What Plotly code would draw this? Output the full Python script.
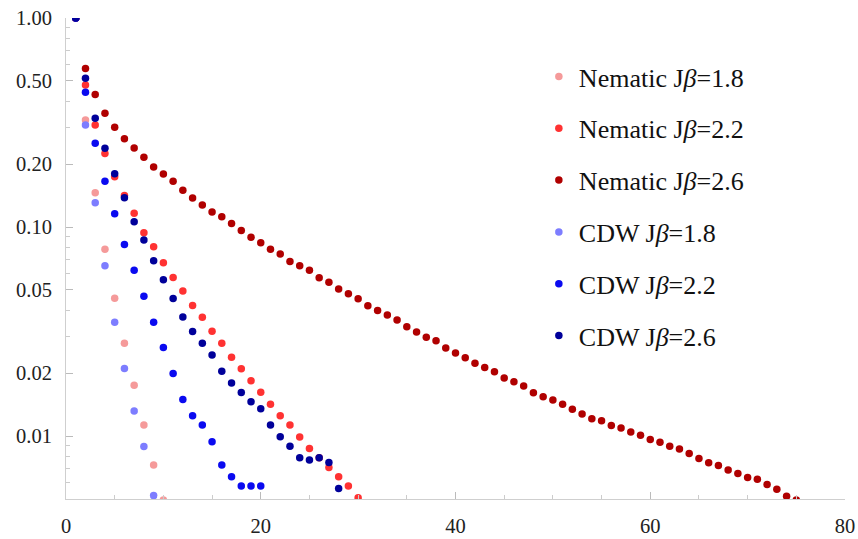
import plotly.graph_objects as go

# ---- data ----
nem18_x = list(range(1, 11))
nem18_y = [1.0, 0.325, 0.146, 0.0782, 0.0456, 0.0278, 0.0175, 0.0113, 0.00727, 0.00494]

nem22_x = list(range(1, 31))
nem22_y = [1.0, 0.478, 0.308, 0.225, 0.174, 0.1415, 0.1163, 0.0939, 0.0804, 0.0674,
           0.0574, 0.0494, 0.0421, 0.0370, 0.0317, 0.0278, 0.0238, 0.0210, 0.0184, 0.0162,
           0.0142, 0.0125, 0.0113, 0.00991, 0.00873, 0.00787, 0.00708, 0.00639, 0.00577, 0.00507]

nem26_x = list(range(1, 76))
nem26_y = [1.0, 0.574, 0.431, 0.350, 0.300, 0.2646, 0.2388, 0.2156, 0.1937, 0.1793,
           0.1655, 0.1498, 0.1377, 0.1274, 0.118, 0.112, 0.1039, 0.0962, 0.0893, 0.0841,
           0.0782, 0.0743, 0.0685, 0.0653, 0.0621, 0.0572, 0.0544, 0.0505, 0.048, 0.0454,
           0.042, 0.0399, 0.0379, 0.0359, 0.0333, 0.0315, 0.0297, 0.0286, 0.0264, 0.025,
           0.0237, 0.0223, 0.0213, 0.0203, 0.01895, 0.0182, 0.01735, 0.0161, 0.01542, 0.01486,
           0.01418, 0.01342, 0.01274, 0.0121, 0.01183, 0.01125, 0.01092, 0.01045, 0.0101, 0.00964,
           0.00935, 0.00895, 0.00867, 0.00826, 0.00782, 0.00745, 0.00724, 0.00688, 0.00663, 0.00634,
           0.00621, 0.00587, 0.00556, 0.00516, 0.00494]

cdw18_x = list(range(1, 10))
cdw18_y = [1.0, 0.3076, 0.1307, 0.0653, 0.035, 0.02104, 0.01318, 0.00891, 0.00519]

cdw22_x = list(range(1, 21))
cdw22_y = [1.0, 0.441, 0.2515, 0.1655, 0.1158, 0.0826, 0.0621, 0.0467, 0.035, 0.0265,
           0.01995, 0.01498, 0.01251, 0.01129, 0.00939, 0.00727, 0.00639, 0.00577, 0.00577, 0.00577]

cdw26_x = list(range(1, 29))
cdw26_y = [1.0, 0.5146, 0.3312, 0.2379, 0.1797, 0.1381, 0.106, 0.0867, 0.0689, 0.056,
           0.0455, 0.0371, 0.0316, 0.0278, 0.0244, 0.0204, 0.01793, 0.01618, 0.01459, 0.01351,
           0.01129, 0.00992, 0.00893, 0.00787, 0.00768, 0.00787, 0.00748, 0.00562]

series_names = ["Nematic J<i>β</i>=1.8", "Nematic J<i>β</i>=2.2", "Nematic J<i>β</i>=2.6",
                "CDW J<i>β</i>=1.8", "CDW J<i>β</i>=2.2", "CDW J<i>β</i>=2.6"]
series_colors = ["#F59A9A", "#FF3232", "#B00000", "#7D7DFF", "#0A0AF0", "#00009A"]

y_tickvals = [0.01, 0.02, 0.05, 0.1, 0.2, 0.5, 1.0]
y_ticktext = ["0.01", "0.02", "0.05", "0.10", "0.20", "0.50", "1.00"]
y_minor = [0.006, 0.007, 0.008, 0.009, 0.03, 0.04, 0.06, 0.07, 0.08, 0.09,
           0.3, 0.4, 0.6, 0.7, 0.8, 0.9]
x_tickvals = [0, 20, 40, 60, 80]
x_minor = [5, 10, 15, 25, 30, 35, 45, 50, 55, 65, 70, 75]

data = [(nem18_x, nem18_y), (nem22_x, nem22_y), (nem26_x, nem26_y),
        (cdw18_x, cdw18_y), (cdw22_x, cdw22_y), (cdw26_x, cdw26_y)]

fig = go.Figure()
for i, ((xs, ys), name, col) in enumerate(zip(data, series_names, series_colors)):
    fig.add_trace(go.Scatter(
        x=xs, y=ys, mode="markers", name=name, legendgroup=f"g{i}",
        marker=dict(color=col, size=7.5, line=dict(width=0)),
    ))

font_family = "Times New Roman"
fig.update_layout(
    width=858, height=539,
    margin=dict(l=66, r=13, t=18, b=40, autoexpand=False),
    paper_bgcolor="white", plot_bgcolor="white",
    font=dict(family=font_family, size=20, color="#222"),
    showlegend=True,
    legend=dict(x=0.607, y=0.927, xanchor="left", yanchor="top",
                font=dict(family=font_family, size=26, color="#111"),
                bgcolor="rgba(0,0,0,0)", tracegroupgap=15, itemwidth=30),
    xaxis=dict(range=[0, 80], showgrid=False, zeroline=False, automargin=False,
               showline=True, linecolor="#cfcfcf", linewidth=1,
               tickvals=x_tickvals, ticks="inside", ticklen=7, tickcolor="#bbbbbb",
               tickfont=dict(family=font_family, size=20.5, color="#222"),
               ticklabelstandoff=8,
               minor=dict(tickvals=x_minor, ticks="inside", ticklen=4, tickcolor="#cccccc"),
               mirror=False),
    yaxis=dict(type="log", range=[-2.301, 0], showgrid=False, zeroline=False, automargin=False,
               showline=True, linecolor="#cfcfcf", linewidth=1,
               tickvals=y_tickvals, ticktext=y_ticktext,
               ticks="inside", ticklen=7, tickcolor="#bbbbbb",
               tickfont=dict(family=font_family, size=20.5, color="#222"),
               ticklabelstandoff=9,
               minor=dict(tickvals=y_minor, ticks="inside", ticklen=4, tickcolor="#cccccc"),
               mirror=False),
)

fig.write_html("out.html", post_script="document.body.style.margin='0';",
               config={"displayModeBar": False})
